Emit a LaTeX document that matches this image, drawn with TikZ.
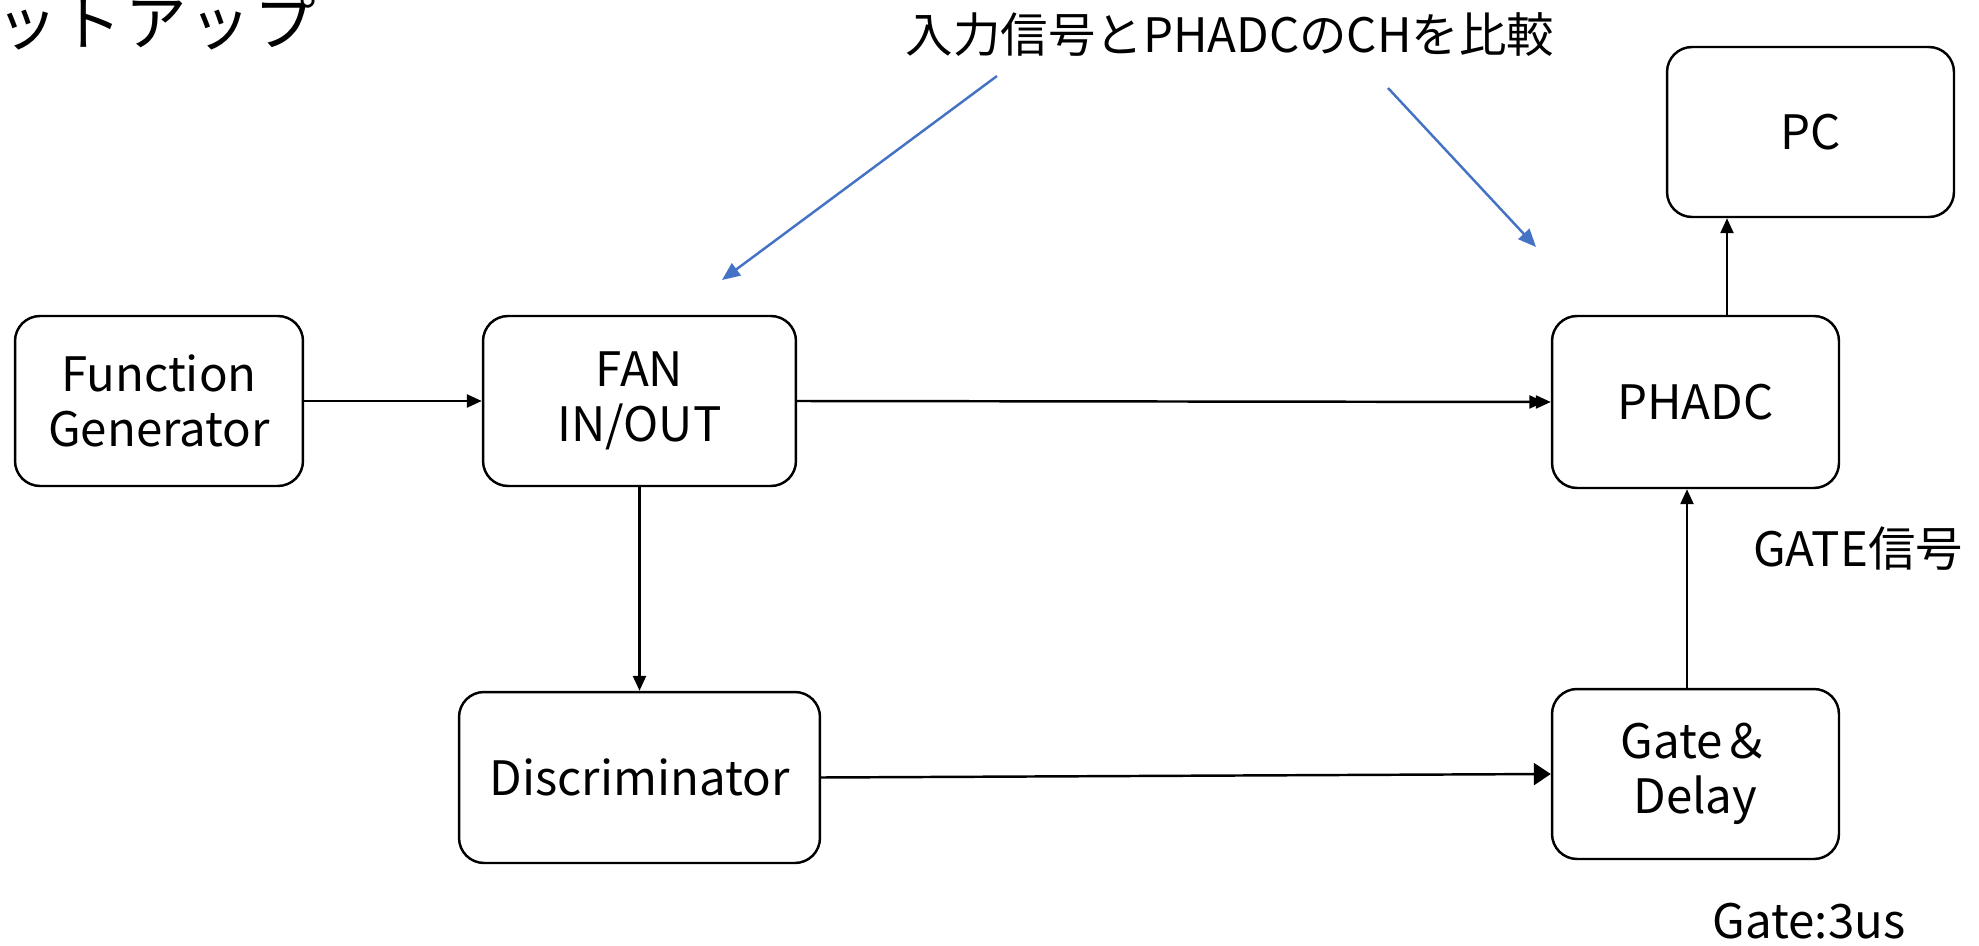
\documentclass[tikz,border=0pt]{standalone}
\usepackage{fontspec}
\setmainfont{Noto Sans CJK JP}
\usetikzlibrary{arrows.meta}
\definecolor{officeblue}{HTML}{4472C4}
\begin{document}
\begin{tikzpicture}[x=0.02cm,y=-0.02cm,
  box/.style={draw, line width=1.4pt, rounded corners=0.5cm, align=center, font=\fontsize{27}{31}\selectfont, inner sep=0pt},
  arr/.style={line width=1.4pt, -{Triangle[length=0.3cm,width=0.26cm]}},
  darr/.style={line width=1.4pt, -{Triangle[length=0.3cm,width=0.26cm,sep=-0.17cm]Triangle[length=0.3cm,width=0.26cm]}},
  bigarr/.style={line width=1.4pt, -{Triangle[length=0.34cm,width=0.44cm]}},
  barr/.style={officeblue, line width=1.4pt, -{Triangle[length=0.36cm,width=0.3cm]}},
  lbl/.style={font=\fontsize{27}{31}\selectfont, inner sep=0pt}]
\useasboundingbox (0,0) rectangle (1979,946);
% title (cut off)
\node[inner sep=0pt, font=\fontsize{35}{38}\selectfont\addfontfeature{LetterSpace=5}] (title) at (156,22) {ットアップ};
% boxes
\node[box, minimum width=5.76cm, minimum height=3.4cm] (fg) at (159,401) {Function\\Generator};
\node[box, minimum width=6.26cm, minimum height=3.4cm] (fan) at (639.5,401) {FAN\\IN/OUT};
\node[box, minimum width=7.22cm, minimum height=3.42cm] (disc) at (639.5,777.5) {Discriminator};
\node[box, minimum width=5.74cm, minimum height=3.44cm] (phadc) at (1695.5,402) {PHADC};
\node[box, minimum width=5.74cm, minimum height=3.4cm] (pc) at (1810.5,132) {PC};
\node[box, minimum width=5.74cm, minimum height=3.4cm] (gd) at (1695.5,774) {Gate＆\\Delay};
% labels
\node[lbl] (cmp) at (1230,35) {入力信号とPHADCのCHを比較};
\node[lbl] (gatesig) at (1858,549) {GATE信号};
\node[lbl] (gatelen) at (1809,921) {Gate:3us};
% connectors
\draw[arr] (fg.east) -- (fan.west);
\draw[darr] (fan.east) -- (phadc.west);
\draw[arr] (fan.south) -- (disc.north);
\draw[bigarr] (disc.east) -- (gd.west);
\draw[arr] ([xshift=-0.17cm]gd.north) -- ([xshift=-0.17cm]phadc.south);
\draw[arr] ([xshift=0.63cm]phadc.north) -- ([xshift=0.63cm]phadc.north |- pc.south);
% blue pointer arrows
\coordinate (b1s) at (997,76);
\coordinate (b1e) at (722,280);
\coordinate (b2s) at (1388,88);
\coordinate (b2e) at (1536,247);
\draw[barr] (b1s) -- (b1e);
\draw[barr] (b2s) -- (b2e);
\end{tikzpicture}
\end{document}
